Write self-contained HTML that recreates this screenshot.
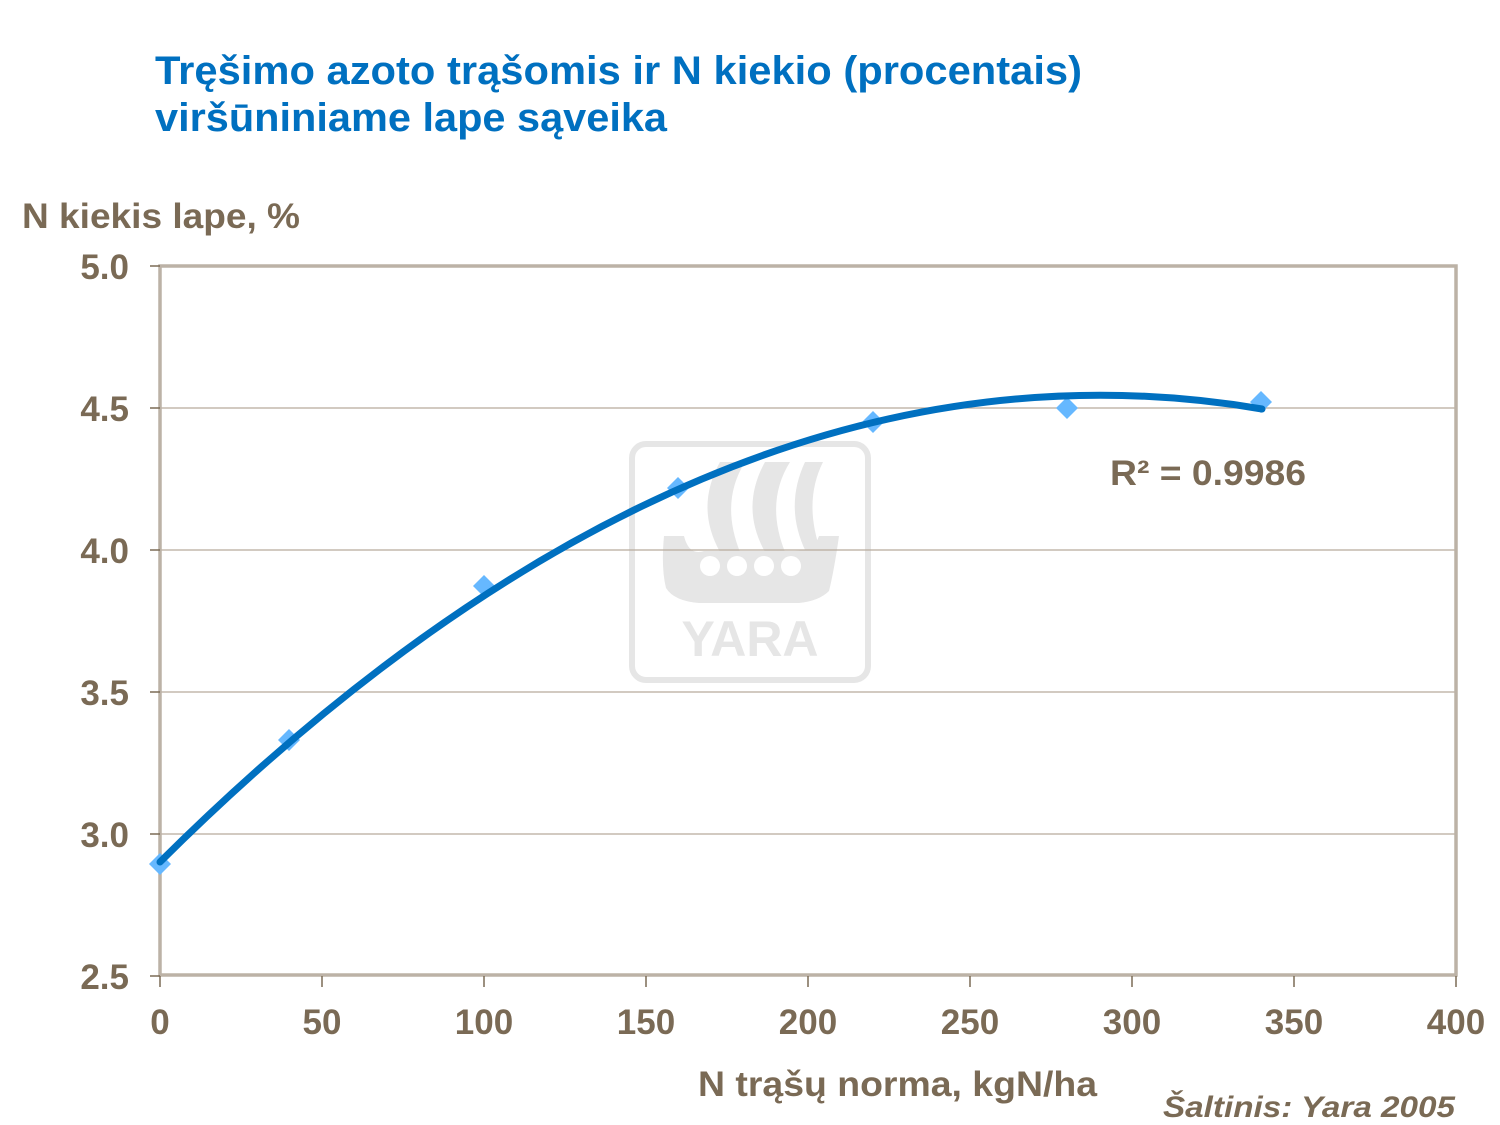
<!DOCTYPE html>
<html><head><meta charset="utf-8"><style>
html,body{margin:0;padding:0;background:#fff;}
svg{display:block;font-family:"Liberation Sans",Arial,sans-serif;font-weight:bold;}
</style></head><body>
<svg width="1500" height="1125" viewBox="0 0 1500 1125" xmlns="http://www.w3.org/2000/svg">
<text x="155" y="84" font-size="40" fill="#0070C0" textLength="927" lengthAdjust="spacingAndGlyphs">Tręšimo azoto trąšomis ir N kiekio (procentais)</text>
<text x="155" y="131" font-size="40" fill="#0070C0" textLength="512" lengthAdjust="spacingAndGlyphs">viršūniniame lape sąveika</text>
<text x="22" y="228" font-size="35" fill="#7a6a55" textLength="278" lengthAdjust="spacingAndGlyphs">N kiekis lape, %</text>
<!-- watermark -->
<g fill="#e6e6e6">
<rect x="632" y="444" width="236" height="236" rx="14" fill="none" stroke="#e6e6e6" stroke-width="6"/>
<path d="M720 462 h25 q-25 40 -5 90 h-20 q-25 -45 0 -90z"/>
<path d="M765 462 h25 q-25 40 -5 90 h-20 q-25 -45 0 -90z"/>
<path d="M805 462 h18 q-20 40 -2 90 h-15 q-22 -45 -1 -90z"/>
<path d="M664 536 h20 q5 20 20 15 h90 q20 0 25 -15 h20 q-5 35 -10 55 q-10 10 -30 12 h-100 q-25 -2 -33 -15 q-5 -20 -2 -52z"/>
<text x="750" y="656" font-size="50" text-anchor="middle">YARA</text>
</g>
<g fill="#fff"><circle cx="710" cy="566" r="10"/><circle cx="737" cy="566" r="10"/><circle cx="764" cy="566" r="10"/><circle cx="791" cy="566" r="10"/></g>
<!-- gridlines -->
<g stroke="#b8ab9c" stroke-width="1.2">
<line x1="160" y1="408" x2="1456" y2="408"/>
<line x1="160" y1="550" x2="1456" y2="550"/>
<line x1="160" y1="692" x2="1456" y2="692"/>
<line x1="160" y1="834" x2="1456" y2="834"/>
</g>
<rect x="160" y="266" width="1296" height="709" fill="none" stroke="#bcb2a6" stroke-width="3.5"/>
<g stroke="#7a6a55" stroke-width="1.5">
<line x1="150" y1="266" x2="160" y2="266"/><line x1="150" y1="408" x2="160" y2="408"/><line x1="150" y1="550" x2="160" y2="550"/><line x1="150" y1="692" x2="160" y2="692"/><line x1="150" y1="834" x2="160" y2="834"/><line x1="150" y1="976" x2="160" y2="976"/>
<line x1="160" y1="976" x2="160" y2="987"/><line x1="322" y1="976" x2="322" y2="987"/><line x1="484" y1="976" x2="484" y2="987"/><line x1="646" y1="976" x2="646" y2="987"/><line x1="808" y1="976" x2="808" y2="987"/><line x1="970" y1="976" x2="970" y2="987"/><line x1="1132" y1="976" x2="1132" y2="987"/><line x1="1294" y1="976" x2="1294" y2="987"/><line x1="1456" y1="976" x2="1456" y2="987"/>
</g>
<g font-size="35" fill="#7a6a55" text-anchor="end">
<text x="129" y="279">5.0</text><text x="129" y="421">4.5</text><text x="129" y="563">4.0</text><text x="129" y="705">3.5</text><text x="129" y="847">3.0</text><text x="129" y="989">2.5</text>
</g>
<g font-size="35" fill="#7a6a55" text-anchor="middle">
<text x="160" y="1034">0</text><text x="322" y="1034">50</text><text x="484" y="1034">100</text><text x="646" y="1034">150</text><text x="808" y="1034">200</text><text x="970" y="1034">250</text><text x="1132" y="1034">300</text><text x="1294" y="1034">350</text><text x="1456" y="1034">400</text>
</g>
<g fill="#66b8ff">
<path d="M160 853 l11 11 l-11 11 l-11 -11z"/>
<path d="M289 729 l11 11 l-11 11 l-11 -11z"/>
<path d="M484 575 l11 11 l-11 11 l-11 -11z"/>
<path d="M678 477 l11 11 l-11 11 l-11 -11z"/>
<path d="M873 411 l11 11 l-11 11 l-11 -11z"/>
<path d="M1067 397 l11 11 l-11 11 l-11 -11z"/>
<path d="M1261 391 l11 11 l-11 11 l-11 -11z"/>
</g>
<path d="M160 862 Q711 315 1262 409" fill="none" stroke="#0070C0" stroke-width="7" stroke-linecap="round"/>
<text x="1110" y="485" font-size="35" fill="#7a6a55" textLength="196" lengthAdjust="spacingAndGlyphs">R² = 0.9986</text>
<text x="698" y="1096" font-size="35" fill="#7a6a55" textLength="399" lengthAdjust="spacingAndGlyphs">N trąšų norma, kgN/ha</text>
<text x="1163" y="1117" font-size="30" font-style="italic" fill="#7a6a55" textLength="292" lengthAdjust="spacingAndGlyphs">Šaltinis:  Yara  2005</text>
</svg>
</body></html>
